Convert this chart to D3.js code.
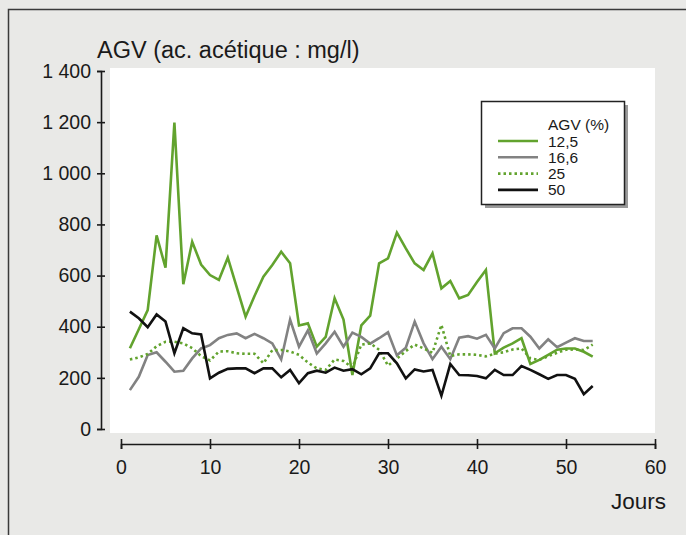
<!DOCTYPE html>
<html>
<head>
<meta charset="utf-8">
<script src="https://cdn.jsdelivr.net/npm/d3@7"></script>
<style>
  body { margin: 0; background: #e9e9e7; }
  svg text { font-family: "Liberation Sans", Arial, sans-serif; fill: #1a1a1a; }
</style>
</head>
<body>
<div id="chart"></div>
<script>
var svgWidth = 686;
var svgHeight = 535;

// Data (jours 1..53, AGV en mg/l)
var days = d3.range(1, 54);
var agv125 = [316, 390, 465, 757, 631, 1198, 566, 732, 643, 602, 583, 670, 555, 439, 520, 596, 641, 693, 648, 405,
  413, 322, 360, 511, 428, 211, 405, 443, 648, 667, 768, 706, 648, 622, 687, 550, 579, 511, 524, 575,
  622, 296, 318, 335, 355, 254, 270, 290, 310, 315, 315, 302, 283];
var agv166 = [152, 204, 289, 300, 263, 224, 228, 276, 315, 328, 355, 368, 374, 355, 372, 355, 335, 272, 428, 322,
  386, 295, 335, 380, 322, 377, 360, 334, 355, 378, 288, 318, 420, 335, 273, 322, 273, 357, 363, 353,
  368, 315, 375, 394, 394, 361, 315, 351, 320, 338, 355, 344, 344];
var agv25 = [272, 280, 293, 324, 341, 341, 335, 316, 285, 268, 303, 304, 296, 294, 294, 257, 308, 309, 303, 290,
  260, 237, 231, 272, 266, 240, 330, 335, 310, 248, 275, 305, 330, 315, 298, 407, 285, 292, 292, 290,
  284, 294, 300, 311, 315, 276, 270, 285, 298, 310, 311, 309, 330];
var agv50 = [459, 433, 398, 448, 420, 296, 394, 374, 370, 198, 220, 235, 237, 237, 218, 237, 237, 202, 231, 179,
  218, 228, 220, 240, 228, 234, 214, 237, 296, 296, 257, 198, 233, 225, 231, 130, 254, 211, 210, 207,
  198, 231, 211, 211, 246, 231, 214, 196, 211, 211, 196, 136, 168];

var seriesNames = ["12,5", "16,6", "25", "50"];
var seriesValues = [agv125, agv166, agv25, agv50];

var xTickValues = [0, 10, 20, 30, 40, 50, 60];
var yTickValues = [0, 200, 400, 600, 800, 1000, 1200, 1400];
var yTickLabels = ["0", "200", "400", "600", "800", "1 000", "1 200", "1 400"];

var seriesStyle = [
  { color: "#62a32e", dash: null },
  { color: "#828282", dash: null },
  { color: "#62a32e", dash: "2.5,3" },
  { color: "#111111", dash: null }
];

var svg = d3.select("#chart")
  .append("svg")
  .attr("width", svgWidth)
  .attr("height", svgHeight);

// frame of the figure
svg.append("path")
  .attr("d", "M8.5,535 V9.5 H686")
  .attr("fill", "none")
  .attr("stroke", "#3a3a3a")
  .attr("stroke-width", 1.5);

// Step 1: scales
var xScale = d3.scaleLinear().domain([0, 60]).range([121, 655]);
var yScale = d3.scaleLinear().domain([0, 1400]).range([429, 71]);

// white plot area
svg.append("rect")
  .attr("x", 110)
  .attr("y", 68)
  .attr("width", 545)
  .attr("height", 365)
  .attr("fill", "#ffffff");

// Step 2: axes
var leftAxis = d3.axisLeft(yScale)
  .tickValues(yTickValues)
  .tickFormat((d, i) => yTickLabels[i])
  .tickSizeOuter(0)
  .tickSize(4)
  .tickPadding(6);

var yAxisG = svg.append("g")
  .attr("transform", "translate(101,0)")
  .call(leftAxis);
yAxisG.selectAll(".tick line").attr("x1", -4).attr("x2", 4);

var bottomAxis = d3.axisBottom(xScale)
  .tickValues(xTickValues)
  .tickSizeOuter(0)
  .tickSize(5);

var xAxisG = svg.append("g")
  .attr("transform", "translate(0,444)")
  .call(bottomAxis);
xAxisG.selectAll(".tick line").attr("y1", -5).attr("y2", 5);
xAxisG.selectAll(".tick text").attr("y", 16);

svg.selectAll(".domain, .tick line")
  .attr("stroke", "#1a1a1a")
  .attr("stroke-width", 1.6);
svg.selectAll(".tick text")
  .style("font-size", "19.5px")
  .attr("fill", "#1a1a1a");

// Step 3: lines
var line = d3.line()
  .x((d, i) => xScale(days[i]))
  .y(d => yScale(d));

svg.selectAll(".serie")
  .data(seriesValues)
  .enter()
  .append("path")
  .attr("class", "serie")
  .attr("d", d => line(d))
  .attr("fill", "none")
  .attr("stroke", (d, i) => seriesStyle[i].color)
  .attr("stroke-width", 2.6)
  .attr("stroke-linejoin", "miter")
  .attr("stroke-dasharray", (d, i) => seriesStyle[i].dash);

// Step 4: titles
svg.append("text")
  .attr("x", 97)
  .attr("y", 58)
  .style("font-size", "23.5px")
  .text("AGV (ac. acétique : mg/l)");

svg.append("text")
  .attr("x", 666)
  .attr("y", 509)
  .attr("text-anchor", "end")
  .style("font-size", "22.5px")
  .text("Jours");

// Step 5: legend
var legend = svg.append("g");
legend.append("rect")
  .attr("x", 485)
  .attr("y", 105)
  .attr("width", 143)
  .attr("height", 103)
  .attr("fill", "#9a9a9a");
legend.append("rect")
  .attr("x", 481.5)
  .attr("y", 101.5)
  .attr("width", 143)
  .attr("height", 103)
  .attr("fill", "#ffffff")
  .attr("stroke", "#222")
  .attr("stroke-width", 1.5);
legend.append("text")
  .attr("x", 548)
  .attr("y", 130)
  .style("font-size", "15.5px")
  .text("AGV (%)");

var legendItems = legend.selectAll(".item")
  .data(seriesNames)
  .enter()
  .append("g")
  .attr("class", "item")
  .attr("transform", (d, i) => `translate(0, ${141 + i * 16.3})`);

legendItems.append("line")
  .attr("x1", 498)
  .attr("x2", 538)
  .attr("stroke", (d, i) => seriesStyle[i].color)
  .attr("stroke-width", 2.6)
  .attr("stroke-dasharray", (d, i) => seriesStyle[i].dash);

legendItems.append("text")
  .attr("x", 548)
  .attr("y", 5.5)
  .style("font-size", "15.5px")
  .text(d => d);
</script>
</body>
</html>
